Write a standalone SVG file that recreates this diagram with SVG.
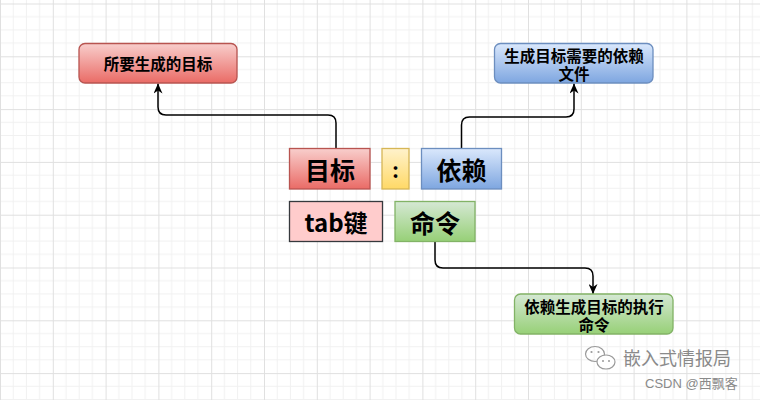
<svg xmlns="http://www.w3.org/2000/svg" width="760" height="400" viewBox="0 0 760 400">
<defs>
<pattern id="grid" x="0" y="3.5" width="52.8" height="52.8" patternUnits="userSpaceOnUse">
<path d="M13.2 0V52.8M26.4 0V52.8M39.6 0V52.8M0 13.2H52.8M0 26.4H52.8M0 39.6H52.8" stroke="#f1f1f1" stroke-width="1" fill="none"/>
<path d="M0.5 0V52.8M0 0.5H52.8" stroke="#e0e0e0" stroke-width="1" fill="none"/>
</pattern>
<linearGradient id="gRed" x1="0" y1="0" x2="0" y2="1"><stop offset="0" stop-color="#f8cecc"/><stop offset="1" stop-color="#ea6b66"/></linearGradient>
<linearGradient id="gBlue" x1="0" y1="0" x2="0" y2="1"><stop offset="0" stop-color="#dae8fc"/><stop offset="1" stop-color="#7ea6e0"/></linearGradient>
<linearGradient id="gGreen" x1="0" y1="0" x2="0" y2="1"><stop offset="0" stop-color="#d5e8d4"/><stop offset="1" stop-color="#97d077"/></linearGradient>
<linearGradient id="gYellow" x1="0" y1="0" x2="0" y2="1"><stop offset="0" stop-color="#fff2cc"/><stop offset="1" stop-color="#ffd966"/></linearGradient>
<marker id="arr" viewBox="0 0 10 9" refX="10" refY="4.5" markerWidth="10" markerHeight="9" markerUnits="userSpaceOnUse" orient="auto">
<path d="M0,0 L10,4.5 L0,9 L3,4.5 Z" fill="#000"/>
</marker>
<style>
.t{font-family:"Noto Sans CJK SC","Noto Sans",sans-serif;font-weight:bold;fill:#000;text-anchor:middle;dominant-baseline:central}
.s{font-size:15.5px}
.b{font-size:25px}
.red{fill:url(#gRed);stroke:#b85450;stroke-width:1.3}
.blue{fill:url(#gBlue);stroke:#6c8ebf;stroke-width:1.3}
.green{fill:url(#gGreen);stroke:#82b366;stroke-width:1.3}
.yellow{fill:url(#gYellow);stroke:#d6b656;stroke-width:1.3}
.conn{fill:none;stroke:#000;stroke-width:1.5;marker-end:url(#arr)}
.wm{font-family:"Noto Sans CJK SC",sans-serif;fill:#8a8a8a}
</style>
</defs>
<rect width="760" height="400" fill="#fff"/>
<rect width="760" height="400" fill="url(#grid)"/>

<g id="connectors">
<path class="conn" d="M336,148.5 V123 Q336,115 328,115 H166 Q158,115 158,107 V83.5"/>
<path class="conn" d="M461.5,148.5 V125 Q461.5,117 469.5,117 H566 Q574,117 574,109 V83.5"/>
<path class="conn" d="M435,241.5 V260 Q435,268 443,268 H585 Q593,268 593,276 V294"/>
</g>

<g id="node-target-desc">
<rect class="red" x="79" y="43.5" width="158" height="39.5" rx="6"/>
<text class="t s" x="158" y="63">所要生成的目标</text>
</g>
<g id="node-dep-desc">
<rect class="blue" x="494.5" y="43.5" width="158.5" height="39.5" rx="6"/>
<text class="t s" x="574" y="54.5">生成目标需要的依赖</text>
<text class="t s" x="574" y="73">文件</text>
</g>
<g id="node-target">
<rect class="red" x="289.5" y="148.5" width="80.5" height="40.5"/>
<text class="t b" x="330" y="169">目标</text>
</g>
<g id="node-colon">
<rect class="yellow" x="382" y="148.5" width="27" height="40.5"/>
<text class="t" x="395.5" y="169" font-size="20">:</text>
</g>
<g id="node-dep">
<rect class="blue" x="421.5" y="148.5" width="80" height="40.5"/>
<text class="t b" x="461.5" y="169">依赖</text>
</g>
<g id="node-tab">
<rect x="289.5" y="201.5" width="93" height="40" fill="#ffcccc" stroke="#36393d" stroke-width="1.3"/>
<text class="t" x="336" y="221.5" font-size="24">tab键</text>
</g>
<g id="node-cmd">
<rect class="green" x="395" y="201.5" width="80" height="40"/>
<text class="t b" x="435" y="221.5">命令</text>
</g>
<g id="node-cmd-desc">
<rect class="green" x="514.5" y="294" width="158.5" height="40" rx="6"/>
<text class="t s" x="594" y="305.5">依赖生成目标的执行</text>
<text class="t s" x="594" y="324">命令</text>
</g>

<g id="watermark">
<g fill="none" stroke="#9a9a9a" stroke-width="1.2">
<ellipse cx="595" cy="354" rx="9.5" ry="7.5"/>
<ellipse cx="606" cy="362" rx="9" ry="7" fill="#fff"/>
</g>
<g fill="#9a9a9a">
<circle cx="591.5" cy="352" r="1.1"/><circle cx="598.5" cy="352" r="1.1"/>
<circle cx="603" cy="361" r="1"/><circle cx="609" cy="361" r="1"/>
</g>
<text class="wm" x="623" y="365" font-size="18">嵌入式情报局</text>
<text class="wm" x="645" y="388" font-size="13" fill="#9a9a9a" style="font-family:'Liberation Sans','Noto Sans CJK SC',sans-serif">CSDN @西飘客</text>
</g>
</svg>
